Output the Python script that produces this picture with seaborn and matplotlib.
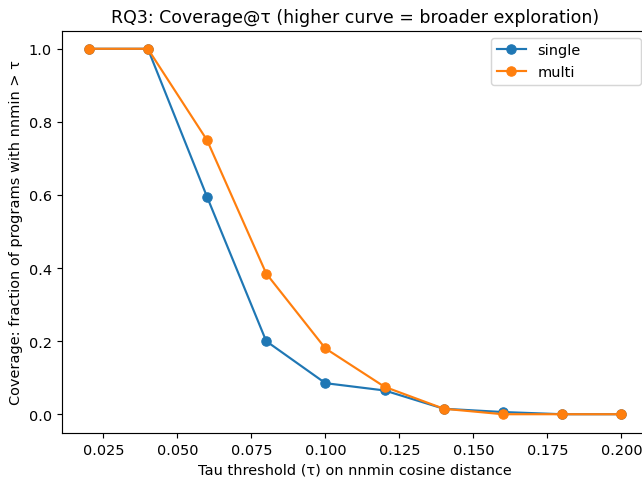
import numpy as np
import pandas as pd
import matplotlib
matplotlib.use('Agg')
import matplotlib.pyplot as plt
import seaborn as sns

# coverage values
taus = [0.02, 0.04, 0.06, 0.08, 0.10, 0.12, 0.14, 0.16, 0.18, 0.20]
single_cov = [1.0, 1.0, 0.595, 0.20, 0.085, 0.065, 0.015, 0.006, 0.0, 0.0]
multi_cov = [1.0, 1.0, 0.75, 0.385, 0.18, 0.075, 0.015, 0.0, 0.0, 0.0]

df = pd.DataFrame({
    'tau': taus * 2,
    'coverage': single_cov + multi_cov,
    'mode': ['single'] * len(taus) + ['multi'] * len(taus),
})

# reference text/marks look ~4% bigger than at 100 dpi
DPI = 104
W, H = 642, 478
fig, ax = plt.subplots(figsize=(W / DPI, H / DPI), dpi=DPI)
sns.lineplot(data=df, x='tau', y='coverage', hue='mode', marker='o',
             markeredgecolor=None, markersize=6.5, linewidth=1.5,
             palette=['#1f77b4', '#ff7f0e'], ax=ax)

ax.set_title('RQ3: Coverage@τ (higher curve = broader exploration)')
ax.set_xlabel('Tau threshold (τ) on nnmin cosine distance')
ax.set_ylabel('Coverage: fraction of programs with nnmin > τ')
ax.legend(loc='upper right', bbox_to_anchor=(0.72, 0.0, 0.28, 1.0), mode='expand')

# the reference was cropped tight, right spine just off the image
ax.set_position([62 / W, 1 - 433.5 / H, (648 - 62) / W, (433.5 - 31.5) / H])
plt.savefig('out.png', dpi=DPI)
